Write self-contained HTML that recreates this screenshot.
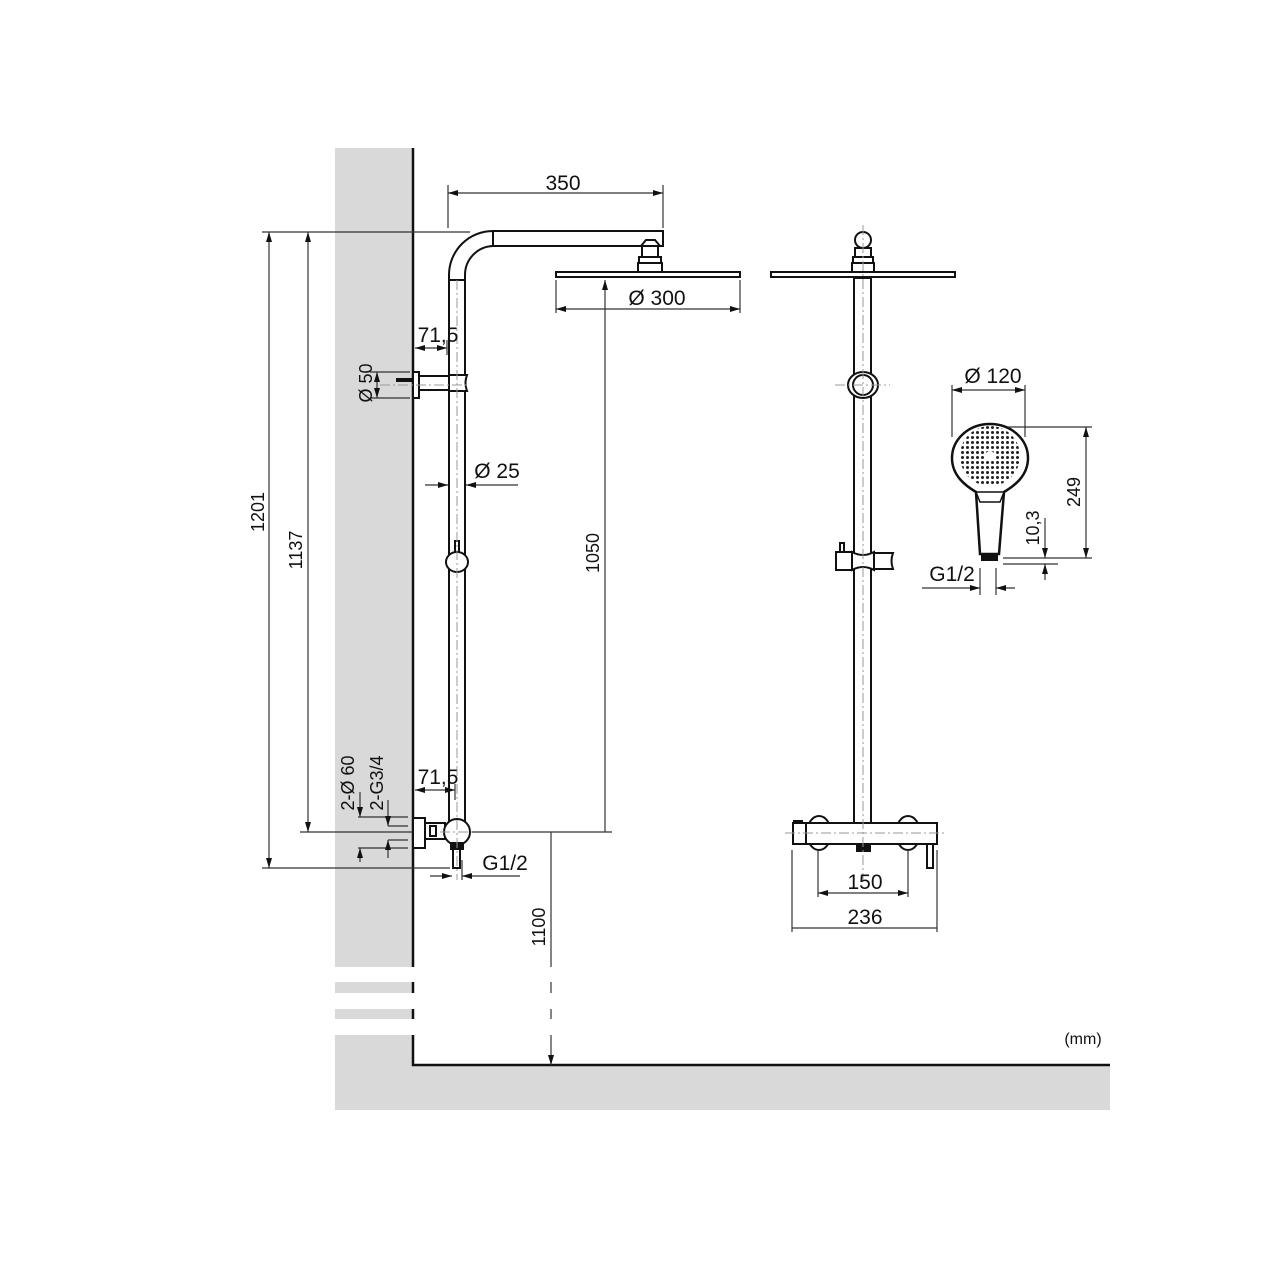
<!DOCTYPE html>
<html><head><meta charset="utf-8"><style>
html,body{margin:0;padding:0;background:#fff;}
svg{display:block;}
text{font-family:"Liberation Sans",sans-serif;fill:#111;}
</style></head><body>
<svg width="1280" height="1280" viewBox="0 0 1280 1280" xmlns="http://www.w3.org/2000/svg">
<defs>
<marker id="a" viewBox="0 0 10 6" refX="10" refY="3" markerWidth="10" markerHeight="6" orient="auto-start-reverse" markerUnits="userSpaceOnUse"><path d="M0,0 L10,3 L0,6 z" fill="#111"/></marker>
<pattern id="dots" width="5" height="5" patternUnits="userSpaceOnUse"><circle cx="2.5" cy="2.5" r="1.5" fill="#222"/></pattern>
</defs>
<g fill="#d9d9d9">
<rect x="335" y="148" width="78" height="819"/>
<rect x="335" y="982" width="78" height="11"/>
<rect x="335" y="1009" width="78" height="10"/>
<rect x="335" y="1035" width="78" height="75"/>
<rect x="413" y="1066" width="697" height="44"/>
</g>
<g stroke="#111" stroke-width="2.5" fill="none">
<line x1="413" y1="148" x2="413" y2="967"/>
<line x1="413" y1="982" x2="413" y2="993"/>
<line x1="413" y1="1009" x2="413" y2="1019"/>
<polyline points="413,1035 413,1065 1110,1065"/>
</g>

<g stroke="#111" stroke-width="2" fill="#fff">
<path d="M449,822 L449,275 A44,44 0 0 1 493,231 L663,231 L663,246 L493,246 A29,29 0 0 0 465,275 L465,822" />
<line x1="449" y1="280" x2="465" y2="280"/>
<line x1="493" y1="231" x2="493" y2="246"/>
<path d="M641,246 L646,240 L655,240 L660,246 Z"/>
<rect x="642" y="246" width="16" height="11"/>
<rect x="639" y="257" width="22" height="6"/>
<rect x="638" y="263" width="24" height="9"/>
<rect x="556" y="272" width="184" height="5"/>
<rect x="413" y="372" width="6" height="26"/>
<rect x="419" y="376" width="30" height="14"/>
<path d="M449,375 L467,375 Q464,383 467,391 L449,391 Z"/>
<rect x="455" y="541" width="4" height="11"/>
<ellipse cx="457" cy="562" rx="11" ry="10"/>
<rect x="413" y="818" width="12" height="30"/>
<rect x="425" y="823" width="20" height="16"/>
<rect x="430" y="826" width="6" height="10" fill="#fff"/>
<rect x="453" y="840" width="7" height="28"/>
<circle cx="457" cy="832" r="13"/>
<rect x="451" y="843" width="12" height="6" fill="#111"/>
</g>
<line x1="396" y1="380" x2="412" y2="380" stroke="#111" stroke-width="4"/>
<g stroke="#999" stroke-width="1" stroke-dasharray="10,3,2,3" fill="none">
<line x1="457" y1="280" x2="457" y2="880"/>
<line x1="380" y1="385" x2="470" y2="385"/>
<line x1="440" y1="832" x2="475" y2="832"/>
</g>

<g stroke="#333" stroke-width="1.2" fill="none">
<line x1="448" y1="185" x2="448" y2="228"/>
<line x1="663" y1="185" x2="663" y2="228"/>
<line x1="448" y1="193" x2="663" y2="193" marker-start="url(#a)" marker-end="url(#a)"/>
<line x1="262" y1="232" x2="470" y2="232"/>
<line x1="262" y1="868" x2="450" y2="868"/>
<line x1="300" y1="832" x2="413" y2="832"/>
<line x1="269" y1="232" x2="269" y2="868" marker-start="url(#a)" marker-end="url(#a)"/>
<line x1="308" y1="232" x2="308" y2="832" marker-start="url(#a)" marker-end="url(#a)"/>
<line x1="556" y1="280" x2="556" y2="313"/>
<line x1="740" y1="280" x2="740" y2="313"/>
<line x1="556" y1="309" x2="740" y2="309" marker-start="url(#a)" marker-end="url(#a)"/>
<line x1="605" y1="832" x2="605" y2="280" marker-end="url(#a)"/>
<line x1="472" y1="832" x2="612" y2="832"/>
<line x1="415" y1="348" x2="447" y2="348" marker-start="url(#a)" marker-end="url(#a)"/>
<line x1="447" y1="340" x2="447" y2="355"/>
<line x1="370" y1="372" x2="410" y2="372"/>
<line x1="370" y1="398" x2="410" y2="398"/>
<line x1="377" y1="372" x2="377" y2="398" marker-start="url(#a)" marker-end="url(#a)"/>
<line x1="425" y1="485" x2="448" y2="485" marker-end="url(#a)"/>
<line x1="518" y1="485" x2="466" y2="485" marker-end="url(#a)"/>
<line x1="415" y1="790" x2="455" y2="790" marker-start="url(#a)" marker-end="url(#a)"/>
<line x1="455" y1="784" x2="455" y2="800"/>
<line x1="358" y1="817" x2="408" y2="817"/>
<line x1="388" y1="826" x2="408" y2="826"/>
<line x1="388" y1="840" x2="408" y2="840"/>
<line x1="358" y1="848" x2="408" y2="848"/>
<line x1="360" y1="792" x2="360" y2="817" marker-end="url(#a)"/>
<line x1="388" y1="800" x2="388" y2="826" marker-end="url(#a)"/>
<line x1="388" y1="858" x2="388" y2="840" marker-end="url(#a)"/>
<line x1="360" y1="862" x2="360" y2="848" marker-end="url(#a)"/>
<line x1="430" y1="876" x2="452" y2="876" marker-end="url(#a)"/>
<line x1="520" y1="876" x2="462" y2="876" marker-end="url(#a)"/>
<line x1="462" y1="860" x2="462" y2="880"/>
<line x1="551" y1="832" x2="551" y2="967"/>
<line x1="551" y1="982" x2="551" y2="993"/>
<line x1="551" y1="1009" x2="551" y2="1019"/>
<line x1="551" y1="1035" x2="551" y2="1065" marker-end="url(#a)"/>
</g>
<g font-size="21" text-anchor="middle">
<text x="563" y="190">350</text>
<text x="657" y="305">Ø 300</text>
<text x="438" y="342">71,5</text>
<text x="497" y="478">Ø 25</text>
<text x="438" y="784">71,5</text>
<text x="505" y="870">G1/2</text>
</g>
<g font-size="18" text-anchor="middle">
<text transform="translate(264,512) rotate(-90)">1201</text>
<text transform="translate(302,550) rotate(-90)">1137</text>
<text transform="translate(599,553) rotate(-90)">1050</text>
<text transform="translate(372,383) rotate(-90)">Ø 50</text>
<text transform="translate(354,783) rotate(-90)">2-Ø 60</text>
<text transform="translate(383,783) rotate(-90)">2-G3/4</text>
<text transform="translate(545,927) rotate(-90)">1100</text>
</g>

<g stroke="#111" stroke-width="2" fill="#fff">
<rect x="854" y="278" width="17" height="545"/>
<circle cx="863" cy="240" r="8"/>
<rect x="855" y="248" width="16" height="9"/>
<rect x="853" y="257" width="20" height="6"/>
<rect x="852" y="263" width="22" height="9"/>
<rect x="771" y="272" width="184" height="5"/>
<ellipse cx="863" cy="385" rx="15" ry="13"/>
<ellipse cx="863" cy="385" rx="10" ry="10"/>
<rect x="840" y="543" width="4" height="10"/>
<rect x="836" y="552" width="16" height="18"/>
<path d="M852,552 Q863,558 874,552 L874,570 Q863,564 852,570 Z"/>
<path d="M874,553 L893,553 Q890,561 893,569 L874,569 Z"/>
<ellipse cx="819" cy="833" rx="12" ry="17"/>
<ellipse cx="908" cy="833" rx="12" ry="17"/>
<rect x="793" y="823" width="144" height="21"/>
<line x1="806" y1="823" x2="806" y2="844"/>
<rect x="927" y="844" width="6" height="24"/>
<rect x="857" y="844" width="13" height="7" fill="#111"/>
</g>
<rect x="793" y="820" width="10" height="4" fill="#111"/>
<g stroke="#999" stroke-width="1" stroke-dasharray="10,3,2,3" fill="none">
<line x1="863" y1="225" x2="863" y2="880"/>
<line x1="835" y1="385" x2="890" y2="385"/>
<line x1="785" y1="833" x2="945" y2="833"/>
</g>
<g stroke="#333" stroke-width="1.2" fill="none">
<line x1="818" y1="850" x2="818" y2="897"/>
<line x1="908" y1="850" x2="908" y2="897"/>
<line x1="818" y1="893" x2="908" y2="893" marker-start="url(#a)" marker-end="url(#a)"/>
<line x1="792" y1="850" x2="792" y2="932"/>
<line x1="937" y1="850" x2="937" y2="932"/>
<line x1="792" y1="928" x2="937" y2="928"/>
</g>
<g font-size="21" text-anchor="middle">
<text x="865" y="889">150</text>
<text x="865" y="924">236</text>
</g>

<g stroke="#111" stroke-width="2.5" fill="#fff">
<path d="M990,424 C1012,424 1028,440 1028,458 C1028,476 1014,486 1004,492 L999,554 L980,554 L976,492 C966,486 952,476 952,458 C952,440 968,424 990,424 Z"/>
<path d="M976,492 L1004,492 L1000,502 L980,502 Z" stroke-width="1.5"/>
</g>
<circle cx="990" cy="456" r="30" fill="url(#dots)"/>
<circle cx="990" cy="456" r="5" fill="#fff"/>
<rect x="981" y="554" width="17" height="7" fill="#111"/>
<g stroke="#333" stroke-width="1.2" fill="none">
<line x1="952" y1="385" x2="952" y2="437"/>
<line x1="1025" y1="385" x2="1025" y2="437"/>
<line x1="952" y1="390" x2="1025" y2="390" marker-start="url(#a)" marker-end="url(#a)"/>
<line x1="1008" y1="427" x2="1092" y2="427"/>
<line x1="1003" y1="558" x2="1092" y2="558"/>
<line x1="1086" y1="427" x2="1086" y2="558" marker-start="url(#a)" marker-end="url(#a)"/>
<line x1="1003" y1="564" x2="1058" y2="564"/>
<line x1="1045" y1="518" x2="1045" y2="558" marker-end="url(#a)"/>
<line x1="1045" y1="580" x2="1045" y2="564" marker-end="url(#a)"/>
<line x1="922" y1="588" x2="980" y2="588" marker-end="url(#a)"/>
<line x1="1015" y1="588" x2="996" y2="588" marker-end="url(#a)"/>
<line x1="980" y1="568" x2="980" y2="595"/>
<line x1="996" y1="568" x2="996" y2="595"/>
</g>
<g font-size="21" text-anchor="middle">
<text x="993" y="383">Ø 120</text>
<text x="952" y="581">G1/2</text>
</g>
<g font-size="18" text-anchor="middle">
<text transform="translate(1080,492) rotate(-90)">249</text>
<text transform="translate(1039,528) rotate(-90)">10,3</text>
</g>
<text x="1083" y="1044" font-size="16" text-anchor="middle">(mm)</text>
</svg>
</body></html>
